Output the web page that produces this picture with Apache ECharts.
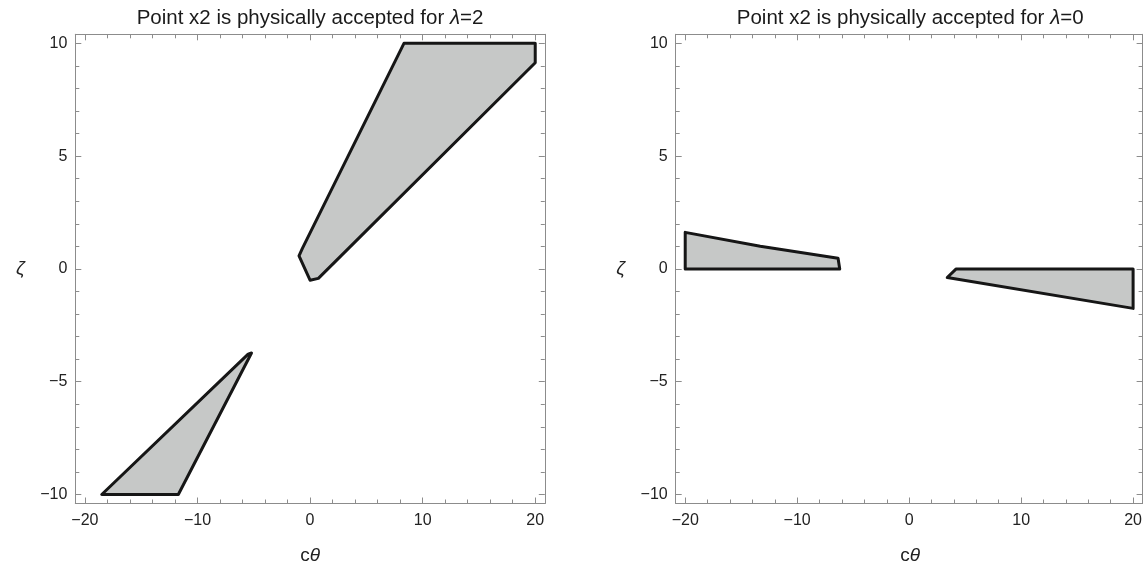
<!DOCTYPE html>
<html>
<head>
<meta charset="utf-8">
<script src="https://cdn.jsdelivr.net/npm/echarts@6/dist/echarts.min.js"></script>
<style>
html,body{margin:0;padding:0;background:#fff;}
#chart{width:1145px;height:567px;}
</style>
</head>
<body>
<div id="chart"></div>
<script>
// ---- data ----
const xTicks = [-20, -10, 0, 10, 20];
const xMinorTicks = [-18, -16, -14, -12, -8, -6, -4, -2, 2, 4, 6, 8, 12, 14, 16, 18];
const yTicks = [-10, -5, 0, 5, 10];
const yMinorTicks = [-9, -8, -7, -6, -4, -3, -2, -1, 1, 2, 3, 4, 6, 7, 8, 9];
const xRange = [-20.85, 20.85];
const yRange = [-10.4, 10.4];

const titles = ['Point x2 is physically accepted for {i|λ}=2', 'Point x2 is physically accepted for {i|λ}=0'];

// lambda = 2 panel regions
const lam2Upper = [[8.34, 10], [20, 10], [20, 9.14], [0.74, -0.42], [0, -0.5], [-0.98, 0.58], [-0.68, 0.91]];
const lam2Lower = [[-18.5, -10], [-11.7, -10], [-5.2, -3.73], [-5.5, -3.78]];
// lambda = 0 panel regions
const lam0Left = [[-20, 1.62], [-20, 0], [-6.2, 0], [-6.35, 0.47], [-13.3, 1.0]];
const lam0Right = [[3.4, -0.38], [4.2, 0], [20, 0], [20, -1.75]];

const panels = [[lam2Upper, lam2Lower], [lam0Left, lam0Right]];

// ---- layout ----
const grids = [
  {left: 75.3, top: 34.3, width: 469.5, height: 469.2},
  {left: 675.7, top: 34.3, width: 469, height: 469.2}
];
const frameColor = '#8c8c8c';
const labelColor = '#222';
const fontFamily = '"Liberation Sans", Arial, sans-serif';
const fmt = v => (v < 0 ? '\u2212' + Math.abs(v) : String(v));

const xAxes = [], yAxes = [], series = [];
grids.forEach((g, gi) => {
  const mk = (pos, major, labels) => ({
    type: 'value', gridIndex: gi, position: pos, min: xRange[0], max: xRange[1],
    axisLine: {show: major, onZero: false, lineStyle: {color: frameColor, width: 1}},
    axisTick: {show: true, inside: true, length: major ? 6 : 4,
      customValues: major ? xTicks : xMinorTicks,
      lineStyle: {color: frameColor, width: 1}},
    axisLabel: labels ? {show: true, customValues: xTicks, formatter: fmt, margin: 9,
      color: labelColor, fontSize: 16, fontFamily: fontFamily} : {show: false},
    splitLine: {show: false}
  });
  xAxes.push(mk('bottom', true, true), mk('bottom', false, false), mk('top', true, false), mk('top', false, false));
  const mky = (pos, major, labels) => ({
    type: 'value', gridIndex: gi, position: pos, min: yRange[0], max: yRange[1],
    axisLine: {show: major, onZero: false, lineStyle: {color: frameColor, width: 1}},
    axisTick: {show: true, inside: true, length: major ? 6 : 4,
      customValues: major ? yTicks : yMinorTicks,
      lineStyle: {color: frameColor, width: 1}},
    axisLabel: labels ? {show: true, customValues: yTicks, formatter: fmt, margin: 8,
      color: labelColor, fontSize: 16, fontFamily: fontFamily} : {show: false},
    splitLine: {show: false}
  });
  yAxes.push(mky('left', true, true), mky('left', false, false), mky('right', true, false), mky('right', false, false));

  const polys = panels[gi];
  series.push({
    type: 'custom',
    xAxisIndex: gi * 4,
    yAxisIndex: gi * 4,
    clip: false,
    data: polys.map((p, i) => [i]),
    renderItem: function (params, api) {
      const pts = polys[params.dataIndex].map(p => api.coord(p));
      return {
        type: 'polygon',
        shape: {points: pts},
        style: {fill: '#c6c8c7', stroke: '#161616', lineWidth: 3, lineJoin: 'round'}
      };
    },
    silent: true
  });
});

const graphic = [];
grids.forEach((g, gi) => {
  const cx = g.left + g.width / 2;
  graphic.push({
    type: 'text', x: cx, y: 18,
    style: {text: titles[gi], align: 'center', verticalAlign: 'middle', textAlign: 'center', textVerticalAlign: 'middle',
      fontSize: 20.5, fontFamily: fontFamily, fill: '#1a1a1a', rich: {i: {fontStyle: 'italic', fontSize: 20.5, fontFamily: fontFamily, fill: '#1a1a1a'}}}
  });
  graphic.push({
    type: 'text', x: cx, y: 556,
    style: {text: 'c{i|θ}', align: 'center', verticalAlign: 'middle', textAlign: 'center', textVerticalAlign: 'middle',
      fontSize: 19, fontFamily: fontFamily, fill: '#222', rich: {i: {fontStyle: 'italic', fontSize: 19, fontFamily: fontFamily, fill: '#222'}}}
  });
  graphic.push({
    type: 'text', x: g.left - 55, y: g.top + g.height / 2,
    style: {text: 'ζ', align: 'center', verticalAlign: 'middle', textAlign: 'center', textVerticalAlign: 'middle',
      fontSize: 19, fontStyle: 'italic', fontFamily: fontFamily, fill: '#222'}
  });
});

const chart = echarts.init(document.getElementById('chart'), null, {renderer: 'canvas'});
chart.setOption({
  animation: false,
  backgroundColor: '#fff',
  grid: grids.map(g => Object.assign({containLabel: false}, g)),
  xAxis: xAxes,
  yAxis: yAxes,
  series: series,
  graphic: graphic
});
</script>
</body>
</html>
